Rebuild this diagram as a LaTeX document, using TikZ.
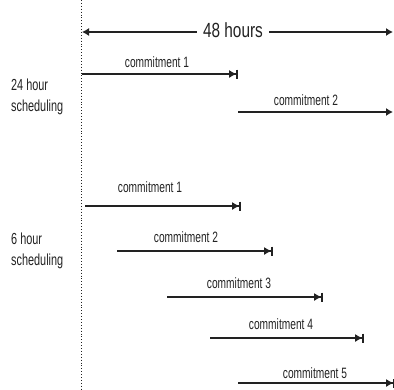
\documentclass[tikz,border=0pt]{standalone}
\usepackage{fontspec}
\setmainfont{Liberation Sans}[FakeStretch=0.75]
\newfontfamily\narrowfont{Liberation Sans}[FakeStretch=0.68]
\usetikzlibrary{arrows.meta,positioning}
\definecolor{ink}{HTML}{222222}

\begin{document}
\begin{tikzpicture}[x=1pt, y=-1pt,
            commit/.style={font=\narrowfont\fontsize{15}{16}\selectfont, text=ink, anchor=base, inner sep=0pt},
            side/.style={font=\narrowfont\fontsize{16}{21}\selectfont, text=ink, anchor=west, align=left, inner sep=0pt},
            span/.style={draw=ink, line width=1.2pt, -{Latex[length=7pt,width=8pt]Bar[width=9pt,line width=1.8pt]}},
            open/.style={draw=ink, line width=1.2pt, -{Latex[length=7pt,width=8pt]}}
        ]
            \useasboundingbox (0,0) rectangle (394,389);

            % time origin
            \coordinate (top) at (81.5,0);
            \coordinate (bot) at (81.5,389);
            \draw[ink, dotted, line width=0.9pt] (top) -- (bot);

            % 48 hour span
            \node[font=\fontsize{20.5}{22}\selectfont, text=ink, inner xsep=6pt] (hrs) at (233,30) {48 hours};
            \coordinate (hl) at (82,32);
            \coordinate (hr) at (393,32);
            \draw[open] (hrs.west |- hl) -- (hl);
            \draw[open] (hrs.east |- hr) -- (hr);

            % 24 hour scheduling
            \node[side] (day) at (11,97) {24 hour\\scheduling};
            \coordinate (a1s) at (82,74);   \coordinate (a1e) at (238,74);
            \coordinate (a2s) at (238,112); \coordinate (a2e) at (393,112);
            \draw[span] (a1s) -- (a1e);
            \draw[open] (a2s) -- (a2e);
            \node[commit] (a1) at (157,67) {commitment 1};
            \node[commit] (a2) at (306,105) {commitment 2};

            % 6 hour scheduling
            \node[side] (six) at (11,251) {6 hour\\scheduling};
            \coordinate (b1s) at (85,206);  \coordinate (b1e) at (241,206);
            \coordinate (b2s) at (117,251); \coordinate (b2e) at (273,251);
            \coordinate (b3s) at (167,297); \coordinate (b3e) at (323,297);
            \coordinate (b4s) at (210,338); \coordinate (b4e) at (364,338);
            \coordinate (b5s) at (238,383); \coordinate (b5e) at (395,383);
            \draw[span] (b1s) -- (b1e);
            \draw[span] (b2s) -- (b2e);
            \draw[span] (b3s) -- (b3e);
            \draw[span] (b4s) -- (b4e);
            \draw[span] (b5s) -- (b5e);
            \node[commit] (b1) at (150,192) {commitment 1};
            \node[commit] (b2) at (186,242) {commitment 2};
            \node[commit] (b3) at (239,288) {commitment 3};
            \node[commit] (b4) at (281,329) {commitment 4};
            \node[commit] (b5) at (315,378) {commitment 5};
        \end{tikzpicture}
\end{document}
